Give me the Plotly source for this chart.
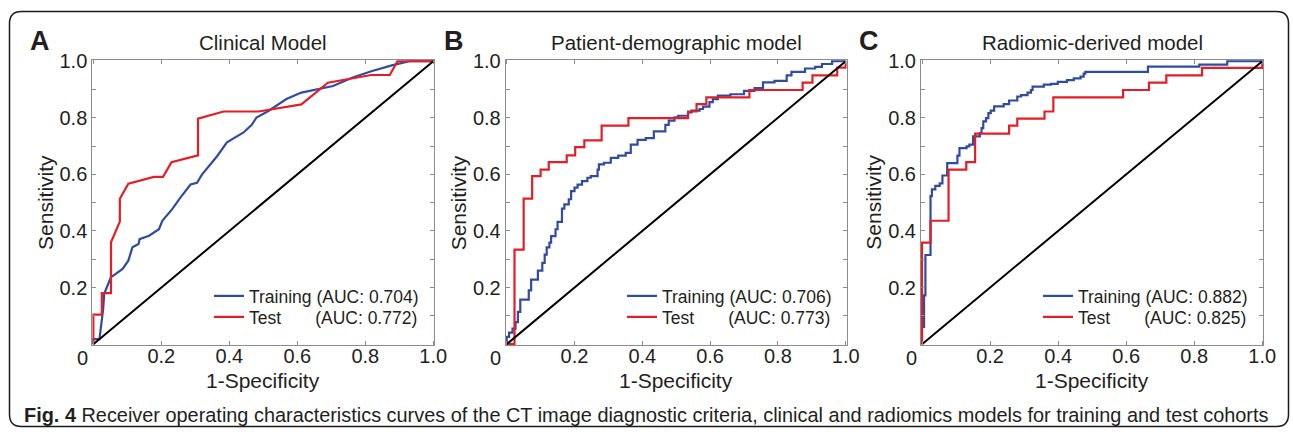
import plotly.graph_objects as go

# ---------------- data ----------------
panel_letters = ["A", "B", "C"]
panel_titles = ["Clinical Model", "Patient-demographic model", "Radiomic-derived model"]
train_auc = ["0.704", "0.706", "0.882"]
test_auc = ["0.772", "0.773", "0.825"]

a_train_x = [0, 0, 0.018, 0.022, 0.025, 0.029, 0.032, 0.042, 0.052, 0.066, 0.086, 0.103, 0.115, 0.133, 0.136,
             0.164, 0.193, 0.203, 0.232, 0.256, 0.286, 0.305, 0.320, 0.364, 0.393, 0.442, 0.466, 0.480, 0.515,
             0.568, 0.612, 0.705, 0.763, 0.82, 0.878, 0.93, 1.0]
a_train_y = [0, 0.018, 0.018, 0.055, 0.090, 0.125, 0.178, 0.207, 0.237, 0.248, 0.266, 0.295, 0.342, 0.354, 0.371,
             0.383, 0.406, 0.436, 0.477, 0.518, 0.564, 0.570, 0.600, 0.664, 0.713, 0.748, 0.775, 0.801, 0.824,
             0.866, 0.889, 0.912, 0.942, 0.965, 0.985, 1.0, 1.0]
a_test_x = [0, 0, 0.025, 0.025, 0.052, 0.052, 0.078, 0.078, 0.103, 0.178, 0.205, 0.230, 0.308, 0.308, 0.383,
            0.486, 0.612, 0.69, 0.817, 0.872, 0.895, 1.0]
a_test_y = [0, 0.104, 0.104, 0.18, 0.18, 0.36, 0.433, 0.514, 0.567, 0.591, 0.591, 0.643, 0.667, 0.797, 0.822,
            0.822, 0.847, 0.924, 0.951, 0.951, 1.0, 1.0]

b_train_x = [0, 0.007, 0.017, 0.026, 0.033, 0.040, 0.065, 0.072, 0.092, 0.105, 0.112, 0.118, 0.126, 0.131, 0.144,
             0.150, 0.163, 0.170, 0.183, 0.190, 0.200, 0.209, 0.222, 0.238, 0.248, 0.268, 0.272, 0.287, 0.307,
             0.329, 0.351, 0.366, 0.386, 0.410, 0.434, 0.468, 0.478, 0.495, 0.506, 0.535, 0.545, 0.569, 0.579,
             0.598, 0.608, 0.623, 0.660, 0.700, 0.731, 0.756, 0.790, 0.826, 0.840, 0.880, 0.910, 0.930, 0.960, 1.0]
b_train_y = [0, 0.026, 0.041, 0.055, 0.078, 0.114, 0.157, 0.190, 0.228, 0.260, 0.287, 0.316, 0.342, 0.359, 0.382,
             0.406, 0.432, 0.479, 0.494, 0.512, 0.541, 0.553, 0.564, 0.576, 0.588, 0.594, 0.617, 0.635, 0.641,
             0.658, 0.666, 0.676, 0.705, 0.722, 0.728, 0.752, 0.775, 0.790, 0.801, 0.807, 0.819, 0.825, 0.831,
             0.839, 0.855, 0.866, 0.878, 0.883, 0.895, 0.905, 0.925, 0.930, 0.950, 0.962, 0.974, 0.980, 0.990, 1.0]
b_test_x = [0, 0.023, 0.050, 0.075, 0.100, 0.124, 0.177, 0.202, 0.229, 0.280, 0.359, 0.535, 0.560, 0.589, 0.716,
            0.873, 0.902, 0.975, 1.0, 1.0]
b_test_y = [0, 0, 0.334, 0.514, 0.594, 0.617, 0.643, 0.667, 0.696, 0.720, 0.772, 0.799, 0.822, 0.848, 0.872,
            0.898, 0.924, 0.950, 0.977, 1.0]

c_train_x = [0, 0.006, 0.010, 0.025, 0.029, 0.039, 0.052, 0.060, 0.074, 0.104, 0.110, 0.131, 0.139, 0.150, 0.170,
             0.175, 0.180, 0.188, 0.195, 0.202, 0.212, 0.240, 0.256, 0.280, 0.291, 0.310, 0.320, 0.325, 0.358,
             0.379, 0.399, 0.426, 0.446, 0.466, 0.475, 0.480, 0.664, 0.815, 0.897, 1.0]
c_train_y = [0, 0.061, 0.172, 0.315, 0.523, 0.547, 0.559, 0.568, 0.596, 0.640, 0.666, 0.693, 0.699, 0.705, 0.734,
             0.746, 0.763, 0.787, 0.799, 0.816, 0.825, 0.840, 0.848, 0.861, 0.875, 0.880, 0.889, 0.898, 0.910,
             0.917, 0.920, 0.927, 0.933, 0.939, 0.945, 0.956, 0.962, 0.981, 0.988, 1.0]
c_test_x = [0, 0.025, 0.078, 0.130, 0.156, 0.256, 0.280, 0.360, 0.386, 0.591, 0.667, 0.718, 0.823, 1.0, 1.0]
c_test_y = [0, 0.359, 0.436, 0.617, 0.643, 0.744, 0.772, 0.797, 0.822, 0.872, 0.898, 0.924, 0.950, 0.976, 1.0]

chance_x = [0, 1]
chance_y = [0, 1]

x_ticks = [0, 0.2, 0.4, 0.6, 0.8, 1.0]
x_ticktext = ["", "0.2", "0.4", "0.6", "0.8", "1.0"]
y_ticks = [0, 0.1, 0.2, 0.3, 0.4, 0.5, 0.6, 0.7, 0.8, 0.9, 1.0]
y_ticktext = ["", "", "0.2", "", "0.4", "", "0.6", "", "0.8", "", "1.0"]

caption_bold = "Fig. 4"
caption_text = ("Receiver operating characteristics curves of the CT image diagnostic criteria, "
                "clinical and radiomics models for training and test cohorts")

# ---------------- styling / layout ----------------
W, H = 1293, 434
BLUE = "#2f4ca0"
RED = "#e41e26"
TXT = "#231f20"
FRAME = "#8c8c8c"
FONT = "Liberation Sans, Arial, sans-serif"

# plot-area pixel extents (left, right) ; shared top/bottom
px_lr = [(92.3, 434.3), (505.7, 846.7), (921.0, 1263.3)]
px_top, px_bot = 60.3, 345.0
legend_x_px = [209, 622, 1038]
legend_rows_px = [296, 317]

series = [
    (a_train_x, a_train_y, a_test_x, a_test_y, "linear"),
    (b_train_x, b_train_y, b_test_x, b_test_y, "vh"),
    (c_train_x, c_train_y, c_test_x, c_test_y, "vh"),
]

fig = go.Figure()
layout = dict(
    width=W, height=H, margin=dict(l=0, r=0, t=0, b=0, pad=0, autoexpand=False),
    paper_bgcolor="white", plot_bgcolor="white",
    font=dict(family=FONT, color=TXT),
    annotations=[], shapes=[],
)

pad = 0.003
for i, (trx, try_, tex, tey, shape) in enumerate(series):
    n = "" if i == 0 else str(i + 1)
    xa, ya = "x" + n, "y" + n
    leg_tr = "legend" + n
    leg_te = "legend" + str(i + 4)
    fig.add_trace(go.Scatter(x=trx, y=try_, mode="lines", line=dict(color=BLUE, width=2.2, shape=shape),
                             name="Training (AUC: " + train_auc[i] + ")", xaxis=xa, yaxis=ya, legend=leg_tr))
    fig.add_trace(go.Scatter(x=tex, y=tey, mode="lines", line=dict(color=RED, width=2.2, shape=shape),
                             name="Test" + "\u00a0" * 7 + "(AUC: " + test_auc[i] + ")", xaxis=xa, yaxis=ya,
                             legend=leg_te))
    fig.add_trace(go.Scatter(x=chance_x, y=chance_y, mode="lines", line=dict(color="black", width=2),
                             showlegend=False, xaxis=xa, yaxis=ya, hoverinfo="skip"))

    l, r = px_lr[i]
    common = dict(showline=True, linecolor=FRAME, linewidth=1, mirror="ticks", ticks="inside", ticklen=4,
                  tickcolor=FRAME, tickwidth=1, showgrid=False, zeroline=False, fixedrange=True,
                  automargin=False, tickfont=dict(size=20, color=TXT, family=FONT))
    layout["xaxis" + n] = dict(common, domain=[l / W, r / W], range=[-pad, 1 + pad], anchor=ya,
                               tickmode="array", tickvals=x_ticks, ticktext=x_ticktext, ticklabelstandoff=-7)
    layout["yaxis" + n] = dict(common, domain=[(H - px_bot) / H, (H - px_top) / H], range=[-pad, 1 + pad],
                               anchor=xa, tickmode="array", tickvals=y_ticks, ticktext=y_ticktext)
    for leg, row in ((leg_tr, legend_rows_px[0]), (leg_te, legend_rows_px[1])):
        layout[leg] = dict(x=legend_x_px[i] / W, y=(H - row) / H, xanchor="left", yanchor="middle",
                           bgcolor="rgba(0,0,0,0)", borderwidth=0,
                           font=dict(size=17.5, color=TXT, family=FONT), itemwidth=30)

    cx = (l + r) / 2
    ann = layout["annotations"]
    ann.append(dict(text=panel_titles[i], x=cx / W, y=(H - 43) / H, xref="paper", yref="paper",
                    xanchor="center", yanchor="middle", showarrow=False, font=dict(size=20.5)))
    ann.append(dict(text="<b>" + panel_letters[i] + "</b>", x=(l - 52) / W, y=(H - 41) / H, xref="paper",
                    yref="paper", xanchor="center", yanchor="middle", showarrow=False, font=dict(size=27)))
    ann.append(dict(text="1-Specificity", x=cx / W, y=(H - 380) / H, xref="paper", yref="paper",
                    xanchor="center", yanchor="middle", showarrow=False, font=dict(size=21)))
    ann.append(dict(text="Sensitivity", x=(l - 47) / W, y=(H - (px_top + px_bot) / 2) / H, xref="paper",
                    yref="paper", xanchor="center", yanchor="middle", textangle=-90, showarrow=False,
                    font=dict(size=21)))
    ann.append(dict(text="0", x=(l - 10) / W, y=(H - 358) / H, xref="paper", yref="paper",
                    xanchor="center", yanchor="middle", showarrow=False, font=dict(size=20)))

layout["annotations"].append(dict(text="<b>" + caption_bold + "</b> " + caption_text, x=22 / W, y=(H - 415) / H,
                                  xref="paper", yref="paper", xanchor="left", yanchor="middle",
                                  showarrow=False, font=dict(size=19.9)))

# rounded frame around the figure
x0, x1, y0, y1, rr = 9.5, 1288.5, 11.5, 426.5, 12
def px(xv, yv):
    return f"{xv / W:.5f},{(H - yv) / H:.5f}"
path = (f"M {px(x0 + rr, y0)} L {px(x1 - rr, y0)} Q {px(x1, y0)} {px(x1, y0 + rr)} "
        f"L {px(x1, y1 - rr)} Q {px(x1, y1)} {px(x1 - rr, y1)} L {px(x0 + rr, y1)} "
        f"Q {px(x0, y1)} {px(x0, y1 - rr)} L {px(x0, y0 + rr)} Q {px(x0, y0)} {px(x0 + rr, y0)} Z")
layout["shapes"].append(dict(type="path", path=path, xref="paper", yref="paper",
                             line=dict(color="#1a1a1a", width=1.5), layer="below"))

fig.update_layout(**layout)
fig.write_html(
    "out.html", config={"displayModeBar": False},
    post_script=("var gd=document.getElementById('{plot_id}');"
                 "document.documentElement.style.margin='0';document.body.style.margin='0';"
                 "document.body.style.overflow='hidden';"
                 "gd.style.position='fixed';gd.style.left='0px';gd.style.top='0px';"),
)
